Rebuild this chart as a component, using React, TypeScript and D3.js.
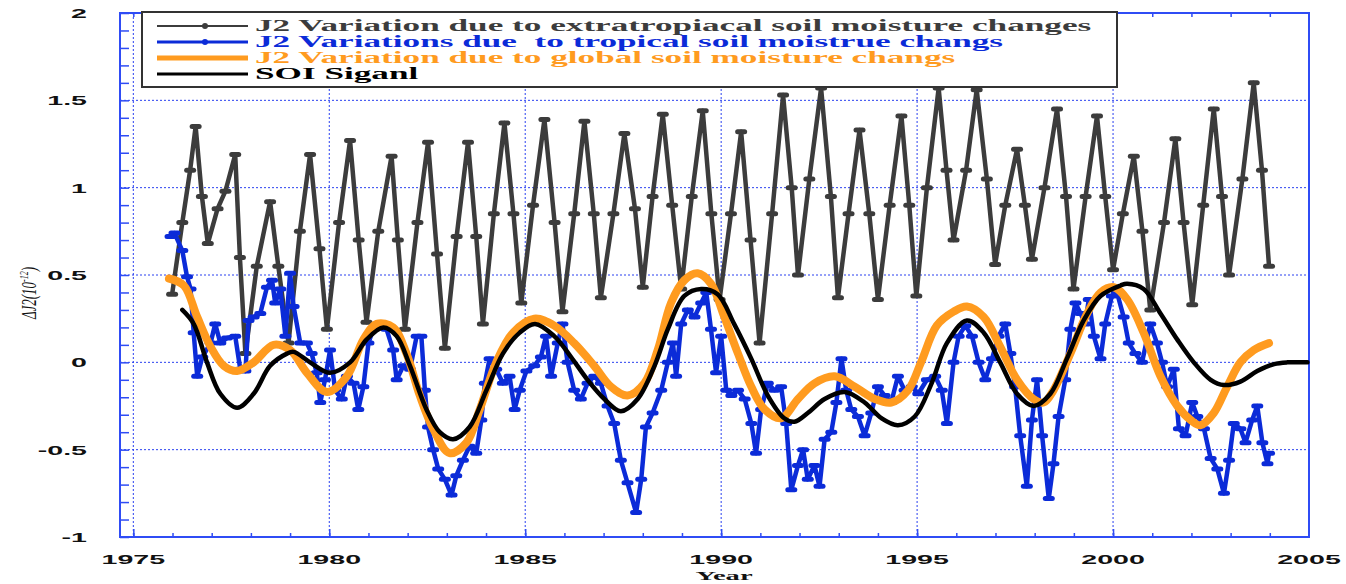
import { useEffect, useRef } from "react";
import * as d3 from "d3";

const WIDTH = 1346;
const HEIGHT = 584;
const PLOT = { left: 120, right: 1309, top: 13, bottom: 537 };
const STRETCH = 2.2; // the original picture is stretched horizontally

const X_TICKS = [1975, 1980, 1985, 1990, 1995, 2000, 2005];
const Y_TICKS = [-1, -0.5, 0, 0.5, 1, 1.5, 2];
const Y_TICK_LABELS = ["-1", "-0.5", "0", "0.5", "1", "1.5", "2"];

const SERIES_NAMES = [
  "J2 Variation due to extratropiacal soil moisture changes",
  "J2 Variations due  to tropical soil moistrue changs",
  "J2 Variation due to global soil moisture changs",
  "SOI Siganl",
];

const GRAY = "#3c3c3c";
const BLUE = "#0b2bd8";
const ORANGE = "#ff9b1f";
const BLACK = "#000000";
const AXIS_BLUE = "#2f4cf5";
const GRID_BLUE = "#2a40f0";

// [year, value]
const EXTRA: [number, number][] = [
  [1975.99, 0.39], [1976.25, 0.8], [1976.45, 1.1], [1976.59, 1.35], [1976.75, 0.95], [1976.9, 0.68],
  [1977.15, 0.88], [1977.35, 0.98], [1977.6, 1.19], [1977.72, 0.6], [1977.86, 0.05], [1978.15, 0.55],
  [1978.49, 0.92], [1978.7, 0.55], [1978.96, 0.11], [1979.25, 0.75], [1979.51, 1.19], [1979.75, 0.65],
  [1979.94, 0.19], [1980.25, 0.8], [1980.53, 1.27], [1980.75, 0.7], [1980.95, 0.23], [1981.25, 0.75],
  [1981.59, 1.18], [1981.75, 0.7], [1981.93, 0.19], [1982.25, 0.8], [1982.52, 1.26], [1982.75, 0.62],
  [1982.95, 0.08], [1983.25, 0.72], [1983.54, 1.26], [1983.75, 0.72], [1983.92, 0.22], [1984.2, 0.85],
  [1984.47, 1.37], [1984.7, 0.85], [1984.9, 0.34], [1985.2, 0.9], [1985.49, 1.39], [1985.75, 0.8],
  [1985.95, 0.29], [1986.25, 0.85], [1986.51, 1.38], [1986.75, 0.85], [1986.93, 0.37], [1987.25, 0.85],
  [1987.53, 1.31], [1987.8, 0.88], [1988.0, 0.43], [1988.25, 0.95], [1988.51, 1.42], [1988.75, 0.9],
  [1988.98, 0.42], [1989.25, 0.95], [1989.53, 1.44], [1989.75, 0.85], [1989.96, 0.36], [1990.25, 0.85],
  [1990.51, 1.32], [1990.75, 0.7], [1990.98, 0.11], [1991.3, 0.85], [1991.58, 1.53], [1991.8, 1.0],
  [1991.96, 0.5], [1992.25, 1.05], [1992.55, 1.57], [1992.8, 0.95], [1992.98, 0.37], [1993.25, 0.85],
  [1993.53, 1.33], [1993.78, 0.85], [1994.0, 0.36], [1994.3, 0.9], [1994.6, 1.41], [1994.8, 0.9],
  [1994.98, 0.38], [1995.25, 1.0], [1995.55, 1.57], [1995.75, 1.1], [1995.93, 0.7], [1996.25, 1.1],
  [1996.52, 1.56], [1996.78, 1.05], [1996.99, 0.56], [1997.25, 0.9], [1997.55, 1.22], [1997.75, 0.9],
  [1997.93, 0.59], [1998.25, 1.0], [1998.57, 1.45], [1998.8, 0.95], [1998.99, 0.42], [1999.3, 0.95],
  [1999.59, 1.41], [1999.8, 0.95], [2000.0, 0.53], [2000.25, 0.85], [2000.53, 1.18], [2000.75, 0.75],
  [2000.95, 0.3], [2001.3, 0.8], [2001.59, 1.28], [2001.8, 0.8], [2002.02, 0.33], [2002.3, 0.9],
  [2002.57, 1.45], [2002.78, 0.95], [2002.96, 0.5], [2003.3, 1.05], [2003.59, 1.6], [2003.8, 1.1],
  [2003.98, 0.55],
];

const TROPICAL: [number, number][] = [
  [1975.95, 0.72], [1976.05, 0.74], [1976.25, 0.64], [1976.37, 0.49], [1976.46, 0.42], [1976.54, 0.17],
  [1976.63, -0.08], [1976.76, 0.03], [1976.97, 0.11], [1977.09, 0.22], [1977.22, 0.11], [1977.39, 0.14],
  [1977.6, 0.15], [1977.73, -0.04], [1977.86, -0.05], [1977.94, 0.24], [1978.07, 0.26], [1978.24, 0.28],
  [1978.41, 0.43], [1978.54, 0.47], [1978.62, 0.34], [1978.75, 0.42], [1978.88, 0.15], [1979.0, 0.51],
  [1979.09, 0.32], [1979.26, 0.11], [1979.43, 0.11], [1979.55, 0.05], [1979.68, -0.06], [1979.77, -0.23],
  [1979.89, -0.1], [1980.02, 0.07], [1980.15, -0.16], [1980.32, -0.21], [1980.45, -0.08], [1980.62, -0.12],
  [1980.74, -0.27], [1980.87, -0.14], [1981.0, 0.11], [1981.12, 0.19], [1981.29, 0.21], [1981.46, 0.19],
  [1981.63, 0.07], [1981.72, -0.1], [1981.89, -0.02], [1982.06, -0.04], [1982.23, 0.15], [1982.35, 0.15],
  [1982.44, -0.16], [1982.52, -0.37], [1982.65, -0.5], [1982.78, -0.61], [1982.95, -0.67], [1983.12, -0.76],
  [1983.24, -0.65], [1983.41, -0.56], [1983.58, -0.48], [1983.75, -0.52], [1983.88, -0.33], [1983.97, -0.12],
  [1984.09, 0.02], [1984.26, -0.04], [1984.43, -0.12], [1984.6, -0.08], [1984.73, -0.27], [1984.86, -0.16],
  [1985.03, -0.05], [1985.23, -0.02], [1985.4, 0.03], [1985.53, 0.15], [1985.66, -0.08], [1985.83, 0.11],
  [1985.95, 0.22], [1986.08, 0.0], [1986.25, -0.16], [1986.42, -0.21], [1986.59, -0.12], [1986.76, -0.08],
  [1986.93, -0.12], [1987.1, -0.25], [1987.27, -0.35], [1987.44, -0.56], [1987.61, -0.69], [1987.83, -0.86],
  [1987.96, -0.67], [1988.08, -0.37], [1988.25, -0.29], [1988.47, -0.16], [1988.64, 0.0], [1988.77, 0.11],
  [1988.85, -0.08], [1988.98, 0.22], [1989.15, 0.3], [1989.32, 0.26], [1989.49, 0.34], [1989.62, 0.4],
  [1989.74, 0.19], [1989.87, -0.06], [1990.0, 0.15], [1990.13, -0.16], [1990.26, -0.19], [1990.43, -0.16],
  [1990.6, -0.21], [1990.77, -0.35], [1990.89, -0.52], [1991.02, -0.27], [1991.19, -0.12], [1991.36, -0.16],
  [1991.53, -0.14], [1991.66, -0.35], [1991.79, -0.73], [1991.96, -0.59], [1992.09, -0.5], [1992.21, -0.67],
  [1992.38, -0.59], [1992.51, -0.71], [1992.64, -0.44], [1992.81, -0.4], [1992.94, -0.23], [1993.07, 0.02],
  [1993.19, -0.16], [1993.32, -0.27], [1993.49, -0.31], [1993.66, -0.42], [1993.83, -0.29], [1994.0, -0.14],
  [1994.17, -0.19], [1994.34, -0.23], [1994.51, -0.08], [1994.68, -0.16], [1994.86, -0.14], [1995.03, -0.18],
  [1995.25, -0.1], [1995.46, -0.08], [1995.63, -0.16], [1995.76, -0.35], [1995.93, 0.0], [1996.06, 0.15],
  [1996.23, 0.21], [1996.4, 0.15], [1996.57, 0.0], [1996.74, -0.1], [1996.91, 0.02], [1997.08, 0.15],
  [1997.25, 0.22], [1997.38, 0.05], [1997.5, -0.14], [1997.63, -0.42], [1997.8, -0.71], [1997.93, -0.33],
  [1998.06, -0.1], [1998.19, -0.42], [1998.36, -0.78], [1998.48, -0.58], [1998.61, -0.31], [1998.78, -0.1],
  [1998.91, 0.19], [1999.04, 0.34], [1999.17, 0.28], [1999.29, 0.22], [1999.38, 0.36], [1999.51, 0.15],
  [1999.68, 0.02], [1999.8, 0.22], [1999.97, 0.38], [2000.1, 0.4], [2000.27, 0.26], [2000.4, 0.11],
  [2000.57, 0.05], [2000.74, 0.0], [2000.95, 0.22], [2001.12, 0.11], [2001.25, 0.0], [2001.38, -0.14],
  [2001.55, -0.04], [2001.68, -0.38], [2001.85, -0.42], [2002.02, -0.23], [2002.15, -0.31], [2002.32, -0.38],
  [2002.49, -0.55], [2002.66, -0.61], [2002.83, -0.75], [2002.96, -0.56], [2003.08, -0.35], [2003.25, -0.38],
  [2003.38, -0.46], [2003.55, -0.33], [2003.68, -0.25], [2003.81, -0.46], [2003.94, -0.58], [2003.98, -0.52],
];

const GLOBAL: [number, number][] = [
  [1975.91, 0.48], [1976.29, 0.44], [1976.63, 0.26], [1976.97, 0.09], [1977.31, -0.02], [1977.65, -0.05],
  [1978.07, 0.0], [1978.58, 0.1], [1979.0, 0.07], [1979.43, -0.06], [1979.94, -0.17], [1980.45, -0.08],
  [1980.87, 0.13], [1981.21, 0.22], [1981.63, 0.2], [1981.97, 0.05], [1982.31, -0.19], [1982.65, -0.38],
  [1983.07, -0.52], [1983.5, -0.46], [1983.84, -0.27], [1984.26, 0.0], [1984.69, 0.17], [1985.23, 0.25],
  [1985.74, 0.21], [1986.25, 0.11], [1986.76, -0.02], [1987.19, -0.14], [1987.61, -0.19], [1988.04, -0.12],
  [1988.38, 0.07], [1988.72, 0.34], [1989.06, 0.47], [1989.4, 0.51], [1989.74, 0.45], [1990.08, 0.26],
  [1990.43, 0.05], [1990.77, -0.14], [1991.11, -0.27], [1991.53, -0.32], [1991.96, -0.21], [1992.38, -0.12],
  [1992.9, -0.08], [1993.41, -0.14], [1993.92, -0.21], [1994.34, -0.23], [1994.77, -0.16], [1995.1, 0.0],
  [1995.5, 0.21], [1995.93, 0.29], [1996.27, 0.32], [1996.7, 0.26], [1997.12, 0.09], [1997.55, -0.1],
  [1997.97, -0.21], [1998.23, -0.23], [1998.48, -0.16], [1998.91, 0.05], [1999.34, 0.28], [1999.68, 0.4],
  [2000.02, 0.43], [2000.36, 0.36], [2000.78, 0.17], [2001.21, -0.08], [2001.64, -0.25], [2001.98, -0.33],
  [2002.23, -0.36], [2002.57, -0.29], [2002.91, -0.14], [2003.25, 0.0], [2003.59, 0.07], [2003.98, 0.11],
];

const SOI: [number, number][] = [
  [1976.25, 0.3], [1976.54, 0.22], [1976.88, 0.0], [1977.22, -0.18], [1977.65, -0.26], [1978.07, -0.18],
  [1978.49, -0.02], [1978.92, 0.05], [1979.09, 0.06], [1979.51, 0.0], [1980.02, -0.06], [1980.53, 0.0],
  [1980.95, 0.13], [1981.38, 0.2], [1981.72, 0.15], [1982.06, -0.02], [1982.48, -0.27], [1982.82, -0.4],
  [1983.16, -0.44], [1983.58, -0.37], [1984.01, -0.16], [1984.43, 0.05], [1984.86, 0.17], [1985.25, 0.22],
  [1985.74, 0.15], [1986.17, 0.03], [1986.59, -0.1], [1987.02, -0.21], [1987.44, -0.28], [1987.87, -0.21],
  [1988.3, -0.02], [1988.64, 0.19], [1989.06, 0.38], [1989.49, 0.42], [1989.91, 0.39], [1990.33, 0.22],
  [1990.77, 0.02], [1991.19, -0.19], [1991.61, -0.32], [1991.87, -0.34], [1992.21, -0.29], [1992.64, -0.21],
  [1993.15, -0.17], [1993.66, -0.23], [1994.09, -0.32], [1994.51, -0.36], [1994.94, -0.31], [1995.37, -0.12],
  [1995.76, 0.11], [1996.27, 0.24], [1996.7, 0.17], [1997.12, 0.0], [1997.55, -0.18], [1997.97, -0.25],
  [1998.4, -0.18], [1998.82, 0.02], [1999.25, 0.24], [1999.68, 0.38], [2000.19, 0.44], [2000.36, 0.45],
  [2000.78, 0.42], [2001.21, 0.28], [2001.64, 0.13], [2002.06, 0.0], [2002.49, -0.1], [2002.83, -0.13],
  [2003.25, -0.11], [2003.68, -0.05], [2004.11, -0.01], [2004.45, 0.0], [2004.96, 0.0],
];

export default function App() {
  const svgRef = useRef<SVGSVGElement>(null);

  useEffect(() => {
    const svg = d3.select(svgRef.current);
    svg.selectAll("*").remove();

    const x = d3.scaleLinear().domain([1974.66, 2005]).range([PLOT.left, PLOT.right]);
    const y = d3.scaleLinear().domain([-1, 2]).range([PLOT.bottom, PLOT.top]);

    // dotted grid
    const grid = svg.append("g");
    X_TICKS.filter((t) => t < 2005).forEach((t) => {
      grid.append("line")
        .attr("x1", x(t)).attr("x2", x(t))
        .attr("y1", PLOT.top).attr("y2", PLOT.bottom)
        .attr("stroke", GRID_BLUE).attr("stroke-width", 1).attr("stroke-dasharray", "2,2");
    });
    Y_TICKS.filter((t) => t > -1 && t < 2).forEach((t) => {
      grid.append("line")
        .attr("x1", PLOT.left).attr("x2", PLOT.right)
        .attr("y1", y(t)).attr("y2", y(t))
        .attr("stroke", GRID_BLUE).attr("stroke-width", 1).attr("stroke-dasharray", "2,2");
    });

    // inward ticks through d3 axes
    const minorYears = d3.range(1975, 2005);
    const minorVals = d3.range(-10, 21).map((v) => v / 10);
    const styleAxis = (g: d3.Selection<SVGGElement, unknown, null, undefined>) => {
      g.select(".domain").remove();
      g.selectAll("line").attr("stroke", AXIS_BLUE).attr("stroke-width", 1.5);
      g.selectAll("text").remove();
    };
    svg.append("g")
      .attr("transform", `translate(${PLOT.left},0)`)
      .call(d3.axisLeft(y).tickValues(minorVals).tickSize(-9))
      .call(styleAxis);
    svg.append("g")
      .attr("transform", `translate(0,${PLOT.bottom})`)
      .call(d3.axisBottom(x).tickValues(minorYears).tickSize(-4))
      .call(styleAxis);
    svg.append("g")
      .attr("transform", `translate(0,${PLOT.bottom})`)
      .call(d3.axisBottom(x).tickValues(X_TICKS.filter((t) => t < 2005)).tickSize(-8))
      .call(styleAxis);
    svg.append("g")
      .attr("transform", `translate(0,${PLOT.top})`)
      .call(d3.axisTop(x).tickValues(minorYears).tickSize(-4))
      .call(styleAxis);

    // frame
    svg.append("rect")
      .attr("x", PLOT.left).attr("y", PLOT.top)
      .attr("width", PLOT.right - PLOT.left).attr("height", PLOT.bottom - PLOT.top)
      .attr("fill", "none").attr("stroke", AXIS_BLUE).attr("stroke-width", 2);

    // series
    const line = d3.line<[number, number]>().x((d) => x(d[0])).y((d) => y(d[1]));
    const smooth = d3.line<[number, number]>().x((d) => x(d[0])).y((d) => y(d[1])).curve(d3.curveCatmullRom);

    const drawMarked = (data: [number, number][], color: string) => {
      svg.append("path").datum(data)
        .attr("d", line).attr("fill", "none")
        .attr("stroke", color).attr("stroke-width", 4.5).attr("stroke-linejoin", "round");
      svg.append("g").selectAll("rect").data(data).join("rect")
        .attr("x", (d) => x(d[0]) - 6).attr("y", (d) => y(d[1]) - 2.5)
        .attr("width", 12).attr("height", 5).attr("rx", 2.5)
        .attr("fill", color);
    };
    drawMarked(EXTRA, GRAY);
    drawMarked(TROPICAL, BLUE);

    svg.append("path").datum(GLOBAL)
      .attr("d", smooth).attr("fill", "none")
      .attr("stroke", ORANGE).attr("stroke-width", 8).attr("stroke-linecap", "round");
    svg.append("path").datum(SOI)
      .attr("d", smooth).attr("fill", "none")
      .attr("stroke", BLACK).attr("stroke-width", 4.5).attr("stroke-linecap", "round");

    // tick labels
    Y_TICKS.forEach((t, i) => {
      svg.append("text")
        .attr("transform", `translate(87,${y(t) + 5}) scale(${STRETCH},1)`)
        .attr("text-anchor", "end")
        .attr("font-family", "'Liberation Sans', Arial, sans-serif")
        .attr("font-weight", "bold").attr("font-size", 13).attr("fill", "#111")
        .text(Y_TICK_LABELS[i]);
    });
    X_TICKS.forEach((t) => {
      svg.append("text")
        .attr("transform", `translate(${x(t)},564) scale(${STRETCH},1)`)
        .attr("text-anchor", "middle")
        .attr("font-family", "'Liberation Sans', Arial, sans-serif")
        .attr("font-weight", "bold").attr("font-size", 13).attr("fill", "#111")
        .text(String(t));
    });

    // axis titles
    svg.append("text")
      .attr("transform", `translate(724,580) scale(${STRETCH},1)`)
      .attr("text-anchor", "middle")
      .attr("font-family", "'Liberation Serif', 'Times New Roman', serif")
      .attr("font-weight", "bold").attr("font-size", 13).attr("fill", "#111")
      .text("Year");
    const yTitle = svg.append("text")
      .attr("transform", "translate(36,293) scale(1.6,1) rotate(-90)")
      .attr("text-anchor", "middle")
      .attr("font-family", "'Liberation Serif', 'Times New Roman', serif")
      .attr("font-style", "italic").attr("font-size", 13).attr("fill", "#111");
    yTitle.append("tspan").text("\u0394J2(10");
    yTitle.append("tspan").attr("dy", -5).attr("font-size", 8).text("-12");
    yTitle.append("tspan").attr("dy", 5).text(")");

    // legend
    const legend = svg.append("g");
    legend.append("rect")
      .attr("x", 142).attr("y", 12).attr("width", 975).attr("height", 75)
      .attr("fill", "#fff").attr("stroke", "#333").attr("stroke-width", 2);
    const colors = [GRAY, BLUE, ORANGE, BLACK];
    const widths = [2, 3, 5, 3];
    SERIES_NAMES.forEach((name, i) => {
      const cy = 26 + i * 16;
      legend.append("line")
        .attr("x1", 157).attr("x2", 248).attr("y1", cy).attr("y2", cy)
        .attr("stroke", colors[i]).attr("stroke-width", widths[i]);
      if (i < 2) {
        legend.append("circle").attr("cx", 205).attr("cy", cy).attr("r", 3).attr("fill", colors[i]);
      }
      legend.append("text")
        .attr("transform", `translate(255,${cy + 5}) scale(${STRETCH},1)`)
        .attr("font-family", "'Liberation Serif', 'Times New Roman', serif")
        .attr("font-weight", "bold").attr("font-size", 16)
        .attr("fill", colors[i])
        .style("white-space", "pre")
        .text(name);
    });
  }, []);

  return (
    <svg
      ref={svgRef}
      width={WIDTH}
      height={HEIGHT}
      style={{ position: "absolute", left: 0, top: 0, background: "#fff" }}
    />
  );
}
